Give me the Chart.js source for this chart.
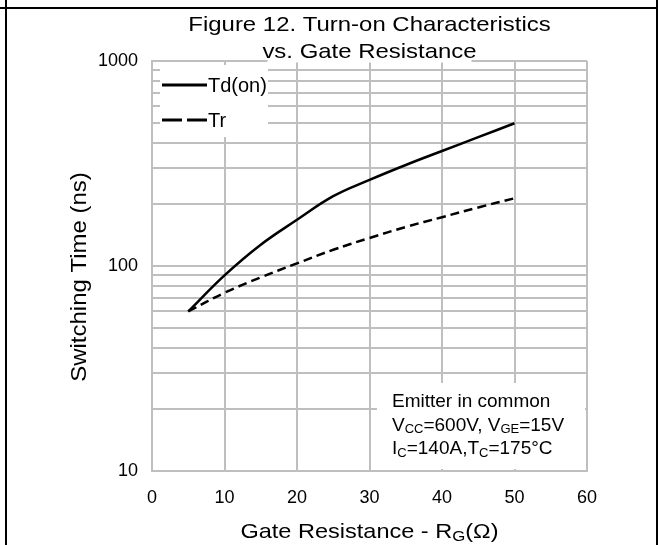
<!DOCTYPE html>
<html>
<head>
<meta charset="utf-8">
<script src="https://cdn.jsdelivr.net/npm/chart.js@4/dist/chart.umd.min.js"></script>
<style>
  body { margin: 0; background: #fff; }
  #wrap { width: 658px; height: 545px; }
</style>
</head>
<body>
<div id="wrap"><canvas id="chart" width="658" height="545"></canvas></div>
<script>
// values (gate resistance in ohm, times in ns)
const gateRes = [5, 10, 15, 20, 25, 30, 35, 40, 45, 50];
const tdOn = [60, 90, 127, 168, 219, 263, 311, 364, 425, 497];
const tr = [60, 74, 88, 103, 120, 137, 155, 173, 193, 214];
const seriesNames = ['Td(on)', 'Tr'];
const yTickLabels = [10, 100, 1000];
const titleLines = ['Figure 12. Turn-on Characteristics', 'vs. Gate Resistance'];
const noteLines = ['Emitter in common', 'V_{CC}=600V, V_{GE}=15V', 'I_{C}=140A,T_{C}=175°C'];

const FONT = '"Liberation Sans", Arial, sans-serif';
const GRID = '#bfbfbf';

// text with _{sub} parts, x stretched by sx, y is the baseline
function drawRich(c, str, x, y, size, sx, align) {
    const segs = str.split(/(_\{[^}]*\})/).filter(Boolean).map(s =>
        s.startsWith('_{') ? { t: s.slice(2, -1), sub: true } : { t: s, sub: false });
    const subSize = Math.round(size * 0.7);
    c.save();
    c.textAlign = 'left';
    c.textBaseline = 'alphabetic';
    c.fillStyle = '#000';
    let w = 0;
    segs.forEach(s => {
        c.font = (s.sub ? subSize : size) + 'px ' + FONT;
        s.w = c.measureText(s.t).width;
        w += s.w;
    });
    c.translate(x, y);
    c.scale(sx, 1);
    let cx = align === 'center' ? -w / 2 : 0;
    segs.forEach(s => {
        c.font = (s.sub ? subSize : size) + 'px ' + FONT;
        c.fillText(s.t, cx, s.sub ? size * 0.15 : 0);
        cx += s.w;
    });
    c.restore();
    return w * sx;
}

const decor = {
    id: 'decor',
    beforeDraw(chart) {
        const c = chart.ctx;
        c.save();
        c.fillStyle = '#fff';
        c.fillRect(0, 0, chart.width, chart.height);
        c.restore();
    },
    beforeDatasetsDraw(chart) {
        const c = chart.ctx;
        const a = chart.chartArea;
        c.save();
        c.fillStyle = '#fff';
        // legend box
        c.fillRect(a.left + 8, a.top + 4, 108, 72);
        // note box
        c.fillRect(a.left + 225, a.bottom - 88, 208, 86);
        c.restore();

        // legend
        chart.data.datasets.forEach((ds, i) => {
            const y = a.top + 24 + i * 35;
            c.save();
            c.strokeStyle = '#000';
            c.lineWidth = 3;
            c.setLineDash(ds.borderDash ? [20, 5] : []);
            c.beginPath();
            c.moveTo(a.left + 10, y);
            c.lineTo(a.left + 55, y);
            c.stroke();
            c.restore();
            drawRich(c, ds.label, a.left + 56, y + 7, 20, 1, 'left');
        });

        // note
        noteLines.forEach((t, i) => {
            drawRich(c, t, a.left + 240, a.bottom - 64 + i * 23.5, 19, 1, 'left');
        });
    },
    afterDraw(chart) {
        const c = chart.ctx;
        const a = chart.chartArea;
        const mid = (a.left + a.right) / 2;

        // title, second line sits on a white patch over the top grid line
        c.save();
        c.fillStyle = '#fff';
        c.fillRect(mid - 102, 38, 204, 24.5);
        c.restore();
        drawRich(c, titleLines[0], mid, 31, 21, 1.14, 'center');
        drawRich(c, titleLines[1], mid, 58, 21, 1.14, 'center');

        // axis titles
        drawRich(c, 'Gate Resistance - R_{G}(Ω)', mid, 538, 21, 1.12, 'center');
        c.save();
        c.translate(86, 277);
        c.rotate(-Math.PI / 2);
        drawRich(c, 'Switching Time (ns)', 0, 0, 22, 1.09, 'center');
        c.restore();

        // frame lines of the page
        c.save();
        c.fillStyle = '#000';
        c.fillRect(0, 7, chart.width, 2);
        c.fillRect(5, 0, 2, chart.height);
        c.fillRect(656, 0, 2, chart.height);
        c.restore();
    }
};

const ctx = document.getElementById('chart').getContext('2d');
new Chart(ctx, {
    type: 'line',
    data: {
        datasets: [
            {
                label: seriesNames[0],
                data: gateRes.map((x, i) => ({ x: x, y: tdOn[i] })),
                borderColor: '#000',
                borderWidth: 2.5,
                pointRadius: 0,
                tension: 0.4,
                fill: false
            },
            {
                label: seriesNames[1],
                data: gateRes.map((x, i) => ({ x: x, y: tr[i] })),
                borderColor: '#000',
                borderWidth: 2.5,
                borderDash: [9, 5],
                pointRadius: 0,
                tension: 0.4,
                fill: false
            }
        ]
    },
    options: {
        responsive: false,
        animation: false,
        devicePixelRatio: 1,
        layout: { padding: { top: 61, right: 71, left: 0, bottom: 0 } },
        plugins: {
            legend: { display: false },
            tooltip: { enabled: false }
        },
        scales: {
            x: {
                type: 'linear',
                min: 0,
                max: 60,
                afterFit: s => { s.height = 74; },
                grid: { color: GRID, lineWidth: 2, drawTicks: false },
                border: { color: GRID, width: 2 },
                ticks: {
                    stepSize: 10,
                    color: '#000',
                    padding: 16,
                    font: { family: FONT, size: 18 }
                }
            },
            y: {
                type: 'logarithmic',
                min: 10,
                max: 1000,
                afterFit: s => { s.width = 152; },
                // keep 1..9 x 10^n lines only (drop the 150 step)
                afterBuildTicks: s => {
                    s.ticks = s.ticks.filter(t => {
                        const m = t.value / Math.pow(10, Math.floor(Math.log10(t.value) + 1e-9));
                        return Math.abs(m - Math.round(m)) < 1e-6;
                    });
                },
                grid: { color: GRID, lineWidth: 2, drawTicks: false },
                border: { color: GRID, width: 2 },
                ticks: {
                    autoSkip: false,
                    color: '#000',
                    padding: 14,
                    font: { family: FONT, size: 18 },
                    callback: v => yTickLabels.includes(v) ? String(v) : ''
                }
            }
        }
    },
    plugins: [decor]
});
</script>
</body>
</html>
